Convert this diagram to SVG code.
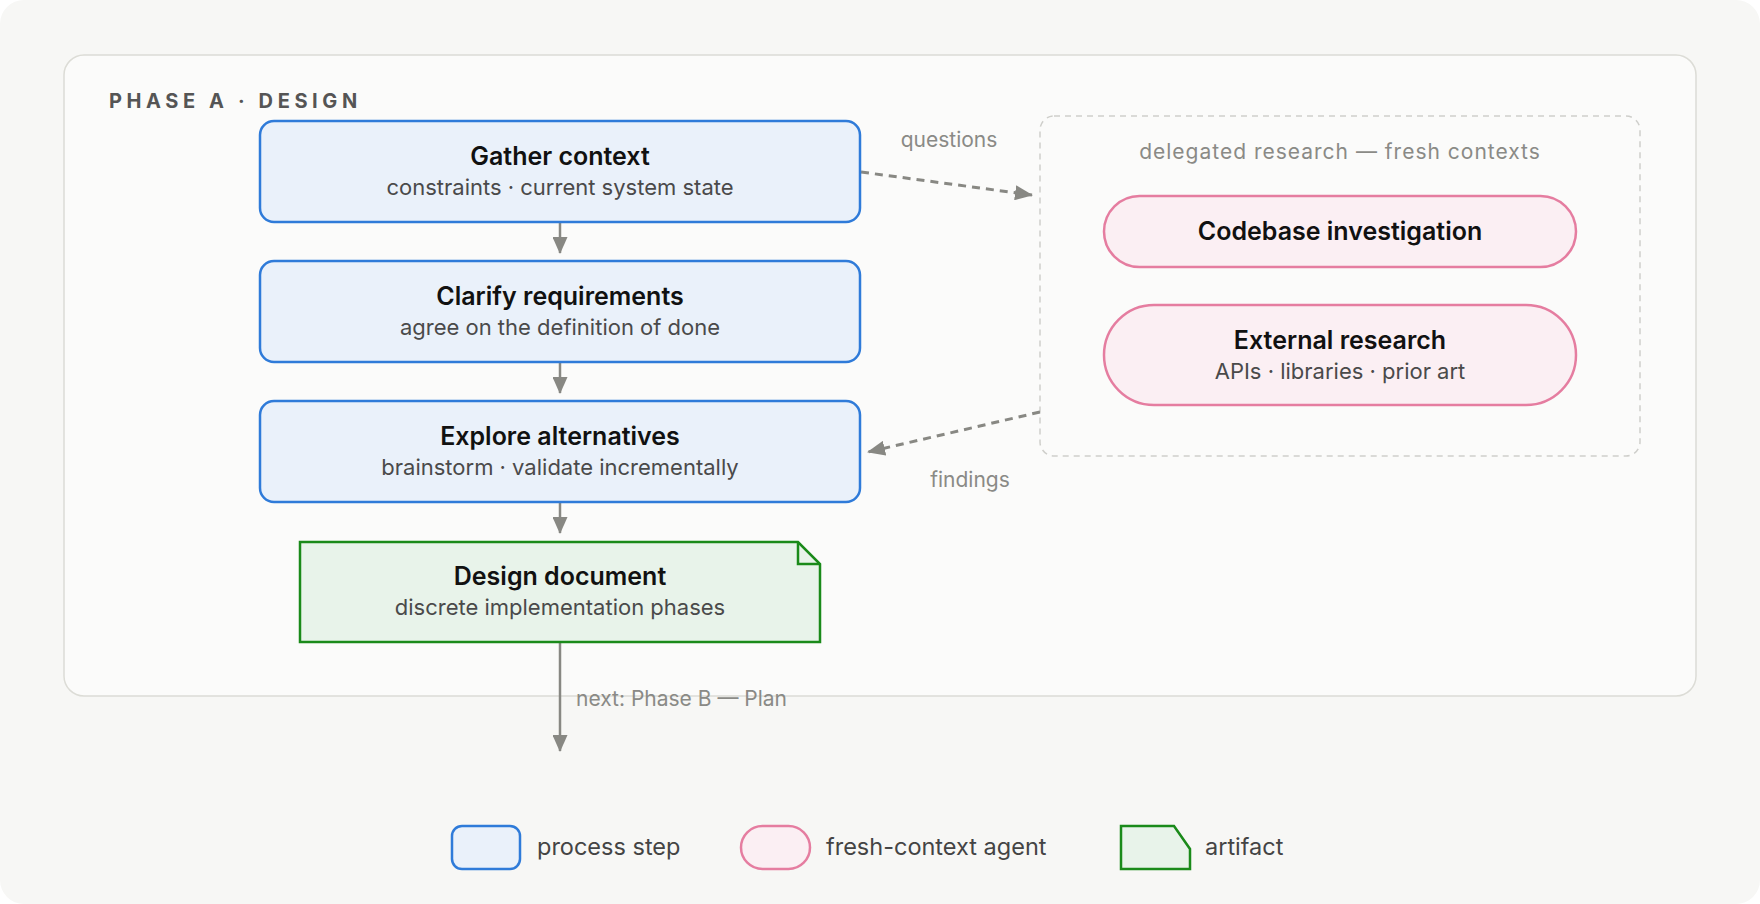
<svg xmlns="http://www.w3.org/2000/svg" width="1760" height="904" viewBox="0 0 1760 904">
<style>
.title{font-family:Inter,"Liberation Sans",sans-serif;font-weight:600;font-size:25px;fill:#111;text-anchor:middle}
.sub{font-family:Inter,"Liberation Sans",sans-serif;font-size:22px;fill:#4a4a4a;text-anchor:middle}
.lbl{font-family:Inter,"Liberation Sans",sans-serif;font-size:21px;fill:#8a8a86}
.leg{font-family:Inter,"Liberation Sans",sans-serif;font-size:23.5px;fill:#444}
.proc{fill:#eaf1fa;stroke:#2f7bd9;stroke-width:2.5}
.agent{fill:#fbeff3;stroke:#e57da0;stroke-width:2.5}
.art{fill:#e8f3ea;stroke:#1a8a1a;stroke-width:2.5}
.flow{stroke:#888883;stroke-width:2.5;fill:none}
.dash{stroke:#888883;stroke-width:3;fill:none;stroke-dasharray:8 6}
</style>
<defs>
<marker id="ah" viewBox="0 0 17 15" refX="16" refY="7.5" markerWidth="17" markerHeight="15" markerUnits="userSpaceOnUse" orient="auto">
<path d="M0,0 L17,7.5 L0,15 Z" fill="#888883"/>
</marker>
<marker id="ahd" viewBox="0 0 18 15" refX="17" refY="7.5" markerWidth="18" markerHeight="15" markerUnits="userSpaceOnUse" orient="auto">
<path d="M0,0 L18,7.5 L0,15 Z" fill="#888883"/>
</marker>
</defs>
<rect x="0" y="0" width="1760" height="904" fill="#ffffff"/>
<rect x="0" y="0" width="1760" height="904" rx="24" fill="#f7f7f5"/>
<g id="phase-a">
<rect x="64" y="55" width="1632" height="641" rx="20" fill="#fbfbfa" stroke="#dcdcd6" stroke-width="1.5"/>
<text x="109" y="108" style="font-family:Inter,'Liberation Sans',sans-serif;font-weight:700;font-size:20px;fill:#555;letter-spacing:4.6px">PHASE A · DESIGN</text>
</g>
<g id="delegated">
<rect x="1040" y="116" width="600" height="340" rx="14" fill="none" stroke="#cfcfcb" stroke-width="1.5" stroke-dasharray="6 5"/>
<text x="1340" y="159" class="lbl" text-anchor="middle" style="letter-spacing:1px">delegated research — fresh contexts</text>
</g>
<g id="connectors">
<line class="flow" x1="560" y1="222" x2="560" y2="253" marker-end="url(#ah)"/>
<line class="flow" x1="560" y1="362" x2="560" y2="393" marker-end="url(#ah)"/>
<line class="flow" x1="560" y1="502" x2="560" y2="533" marker-end="url(#ah)"/>
<line class="flow" x1="560" y1="642" x2="560" y2="751" marker-end="url(#ah)"/>
<line class="dash" x1="861" y1="172" x2="1032" y2="195" marker-end="url(#ahd)"/>
<line class="dash" x1="1040" y1="412" x2="868" y2="452" marker-end="url(#ahd)"/>
<text x="949" y="147" class="lbl" text-anchor="middle">questions</text>
<text x="970" y="487" class="lbl" text-anchor="middle">findings</text>
<text x="576" y="706" class="lbl">next: Phase B — Plan</text>
</g>
<g id="gather">
<rect class="proc" x="260" y="121" width="600" height="101" rx="14"/>
<text class="title" x="560" y="165">Gather context</text>
<text class="sub" x="560" y="195">constraints · current system state</text>
</g>
<g id="clarify">
<rect class="proc" x="260" y="261" width="600" height="101" rx="14"/>
<text class="title" x="560" y="305">Clarify requirements</text>
<text class="sub" x="560" y="335">agree on the definition of done</text>
</g>
<g id="explore">
<rect class="proc" x="260" y="401" width="600" height="101" rx="14"/>
<text class="title" x="560" y="445">Explore alternatives</text>
<text class="sub" x="560" y="475">brainstorm · validate incrementally</text>
</g>
<g id="design-doc">
<path class="art" d="M300,542 H798 L820,564 V642 H300 Z"/>
<path d="M798,542 V564 H820" fill="none" stroke="#1a8a1a" stroke-width="2.5"/>
<text class="title" x="560" y="585">Design document</text>
<text class="sub" x="560" y="615">discrete implementation phases</text>
</g>
<g id="codebase">
<rect class="agent" x="1104" y="196" width="472" height="71" rx="35.5"/>
<text class="title" x="1340" y="240">Codebase investigation</text>
</g>
<g id="external">
<rect class="agent" x="1104" y="305" width="472" height="100" rx="50"/>
<text class="title" x="1340" y="349">External research</text>
<text class="sub" x="1340" y="379">APIs · libraries · prior art</text>
</g>
<g id="legend">
<rect class="proc" x="452" y="826" width="68" height="43" rx="10"/>
<text class="leg" x="537" y="855">process step</text>
<rect class="agent" x="741" y="826" width="69" height="43" rx="21.5"/>
<text class="leg" x="826" y="855">fresh-context agent</text>
<path class="art" d="M1121,826 H1174 L1190,849 V869 H1121 Z"/>
<text class="leg" x="1205" y="855">artifact</text>
</g>
</svg>
